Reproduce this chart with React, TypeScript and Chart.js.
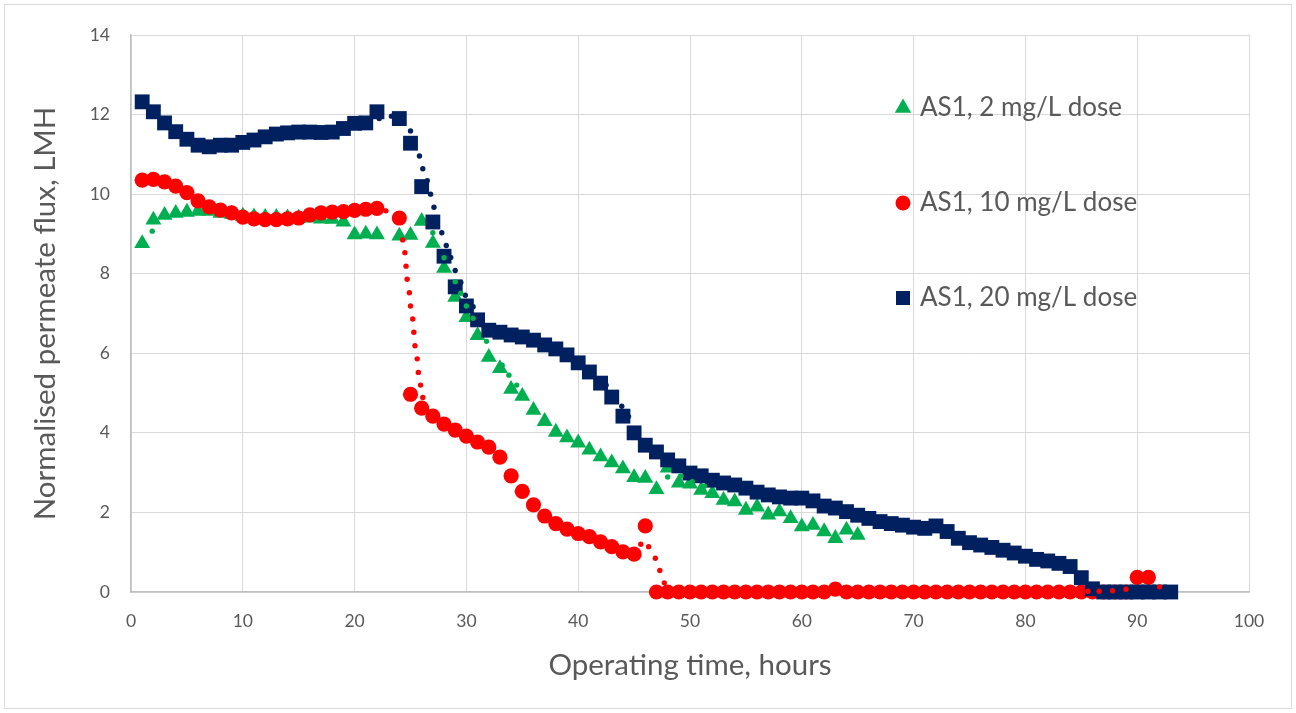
import React, { useEffect, useRef } from 'react';
import { Chart, registerables } from 'chart.js';

Chart.register(...registerables);

// ---------- data ----------
const xTitle = 'Operating time, hours';
const yTitle = 'Normalised permeate flux, LMH';

const seriesLabels = ['AS1, 2 mg/L dose', 'AS1, 10 mg/L dose', 'AS1, 20 mg/L dose'];

// AS1, 2 mg/L dose (hourly)
const greenHours = [
  1, 2, 3, 4, 5, 6, 7, 8, 9, 10, 11, 12, 13, 14, 15, 16, 17, 18, 19, 20, 21, 22,
  24, 25, 26, 27, 28, 29, 30, 31, 32, 33, 34, 35, 36, 37, 38, 39, 40, 41, 42, 43, 44, 45,
  46, 47, 48, 49, 50, 51, 52, 53, 54, 55, 56, 57, 58, 59, 60, 61, 62, 63, 64, 65,
];
const greenFlux = [
  8.76, 9.35, 9.47, 9.52, 9.55, 9.57, 9.57, 9.52, 9.5, 9.45, 9.43, 9.42, 9.42, 9.41, 9.4, 9.4, 9.38, 9.37, 9.3, 8.98, 9.0, 8.98,
  8.95, 8.97, 9.32, 8.77, 8.14, 7.41, 6.9, 6.45, 5.9, 5.62, 5.1, 4.92, 4.57, 4.29, 4.02, 3.88, 3.75, 3.57, 3.4, 3.25, 3.1, 2.88,
  2.86, 2.58, 3.12, 2.74, 2.72, 2.56, 2.48, 2.31, 2.27, 2.06, 2.14, 1.94, 2.02, 1.85, 1.64, 1.68, 1.52, 1.35, 1.56, 1.43,
];

// AS1, 10 mg/L dose (hourly)
const redHours = [
  1, 2, 3, 4, 5, 6, 7, 8, 9, 10, 11, 12, 13, 14, 15, 16, 17, 18, 19, 20, 21, 22,
  24, 25, 26, 27, 28, 29, 30, 31, 32, 33, 34, 35, 36, 37, 38, 39, 40, 41, 42, 43, 44, 45, 46,
  47, 48, 49, 50, 51, 52, 53, 54, 55, 56, 57, 58, 59, 60, 61, 62, 63, 64, 65, 66, 67, 68,
  69, 70, 71, 72, 73, 74, 75, 76, 77, 78, 79, 80, 81, 82, 83, 84, 85, 86, 87, 88, 89, 90, 91,
];
const redFlux = [
  10.35, 10.37, 10.31, 10.2, 10.04, 9.83, 9.68, 9.6, 9.53, 9.42, 9.38, 9.36, 9.36, 9.38, 9.4, 9.48, 9.53, 9.55, 9.56, 9.59, 9.62, 9.64,
  9.4, 4.97, 4.62, 4.42, 4.22, 4.07, 3.92, 3.77, 3.64, 3.39, 2.92, 2.53, 2.19, 1.91, 1.72, 1.58, 1.47, 1.39, 1.26, 1.14, 1.01, 0.95, 1.66,
  0, 0, 0, 0, 0, 0, 0, 0, 0, 0, 0, 0, 0, 0, 0, 0, 0.07, 0, 0, 0, 0, 0,
  0, 0, 0, 0, 0, 0, 0, 0, 0, 0, 0, 0, 0, 0, 0, 0, 0, 0, 0, 0, 0, 0.37, 0.37,
];

// AS1, 20 mg/L dose (hourly)
const blueHours = [
  1, 2, 3, 4, 5, 6, 7, 8, 9, 10, 11, 12, 13, 14, 15, 16, 17, 18, 19, 20, 21, 22,
  24, 25, 26, 27, 28, 29, 30, 31, 32, 33, 34, 35, 36, 37, 38, 39, 40, 41, 42, 43, 44, 45, 46,
  47, 48, 49, 50, 51, 52, 53, 54, 55, 56, 57, 58, 59, 60, 61, 62, 63, 64, 65, 66, 67, 68,
  69, 70, 71, 72, 73, 74, 75, 76, 77, 78, 79, 80, 81, 82, 83, 84, 85, 86, 87, 88, 89, 90, 91, 92, 93,
];
const blueFlux = [
  12.32, 12.07, 11.79, 11.57, 11.38, 11.23, 11.19, 11.23, 11.23, 11.3, 11.36, 11.44, 11.51, 11.54, 11.56, 11.56, 11.55, 11.56, 11.65, 11.78, 11.79, 12.07,
  11.9, 11.28, 10.19, 9.3, 8.44, 7.67, 7.19, 6.84, 6.58, 6.53, 6.46, 6.41, 6.33, 6.21, 6.11, 5.96, 5.76, 5.53, 5.25, 4.9, 4.42, 4.0, 3.69,
  3.52, 3.32, 3.17, 2.99, 2.92, 2.81, 2.74, 2.69, 2.61, 2.51, 2.44, 2.39, 2.36, 2.36, 2.29, 2.16, 2.11, 2.02, 1.93, 1.85, 1.77, 1.72,
  1.68, 1.63, 1.6, 1.66, 1.52, 1.35, 1.24, 1.18, 1.12, 1.05, 0.98, 0.9, 0.82, 0.78, 0.72, 0.64, 0.36, 0.08, 0, 0, 0, 0, 0, 0, 0,
];

// finer-resolution readings (small dots)
const greenFineHours = [1.9, 27.0, 28.0, 29.0, 29.5, 30.0, 30.6, 31.8, 33.2, 33.8, 34.5, 48.0, 49.2, 50.2, 51.3];
const greenFineFlux = [9.07, 9.03, 8.4, 7.8, 7.51, 7.19, 6.88, 6.3, 5.7, 5.45, 5.2, 2.89, 2.92, 2.77, 2.66];

const redFineHours = [
  22.8, 24.3, 24.5, 24.6, 24.7, 24.9, 25.0, 25.2, 25.3, 25.4, 25.6, 25.7, 25.9, 26.1,
  45.6, 46.3, 46.9, 47.3, 47.7, 85.6, 86.6, 87.8, 89.0, 92.0,
];
const redFineFlux = [
  9.58, 8.85, 8.53, 8.19, 7.86, 7.52, 7.19, 6.86, 6.53, 6.19, 5.86, 5.52, 5.2, 4.89,
  1.2, 1.14, 0.85, 0.54, 0.23, 0.02, 0.02, 0.03, 0.07, 0.13,
];

const blueFineHours = [
  22.2, 23.3, 25.0, 25.8, 26.1, 26.5, 26.8, 27.1, 27.8, 28.2, 28.6, 29.0, 29.5, 29.9, 30.6,
  42.5, 43.9, 44.5,
];
const blueFineFlux = [
  11.9, 11.96, 11.59, 10.96, 10.64, 10.34, 10.0, 9.67, 9.03, 8.71, 8.41, 8.08, 7.78, 7.46, 7.17,
  5.2, 4.67, 4.41,
];

const xTicks = [0, 10, 20, 30, 40, 50, 60, 70, 80, 90, 100];
const yTicks = [0, 2, 4, 6, 8, 10, 12, 14];

// ---------- styles ----------
const GREEN = '#00B050';
const RED = '#FF0000';
const NAVY = '#002060';
const TEXT = '#595959';
const FONT = "Lato, 'Open Sans', sans-serif";

const pts = (xs: number[], ys: number[]) => xs.map((x, i) => ({ x, y: ys[i] }));

const frameAndLegend = {
  id: 'frameAndLegend',
  beforeDraw(chart: any) {
    const { ctx } = chart;
    ctx.save();
    ctx.fillStyle = '#ffffff';
    ctx.fillRect(0, 0, chart.width, chart.height);
    ctx.strokeStyle = '#d9d9d9';
    ctx.lineWidth = 1;
    ctx.strokeRect(4.5, 4.5, chart.width - 9, chart.height - 9);
    ctx.restore();
  },
  afterDatasetsDraw(chart: any) {
    const { ctx } = chart;
    const items = chart.data.datasets.filter((d: any) => d.inLegend);
    const mx = 903;
    const tx = 920;
    const ys = [108, 203, 298];
    ctx.save();
    items.forEach((d: any, i: number) => {
      const y = ys[i];
      ctx.fillStyle = d.backgroundColor;
      ctx.beginPath();
      if (d.pointStyle === 'triangle') {
        const r = 9.5;
        ctx.moveTo(mx, y - r);
        ctx.lineTo(mx + r * Math.sin((2 * Math.PI) / 3), y - r * Math.cos((2 * Math.PI) / 3));
        ctx.lineTo(mx + r * Math.sin((4 * Math.PI) / 3), y - r * Math.cos((4 * Math.PI) / 3));
        ctx.closePath();
      } else if (d.pointStyle === 'circle') {
        ctx.arc(mx, y, 7.5, 0, Math.PI * 2);
      } else {
        ctx.rect(mx - 7, y - 7, 14, 14);
      }
      ctx.fill();
      ctx.fillStyle = TEXT;
      ctx.font = `26px ${FONT}`;
      ctx.textBaseline = 'middle';
      ctx.textAlign = 'left';
      ctx.fillText(d.label, tx, y);
    });
    ctx.restore();
  },
};

export default function App() {
  const ref = useRef<HTMLCanvasElement | null>(null);

  useEffect(() => {
    if (!ref.current) return;
    const big = (label: string, data: any[], color: string, style: string, r: number, order: number) => ({
      label,
      data,
      inLegend: true,
      backgroundColor: color,
      borderColor: color,
      pointStyle: style,
      pointRadius: r,
      pointBorderWidth: 0,
      showLine: false,
      clip: false,
      order,
    });
    const fine = (data: any[], color: string) => ({
      label: '',
      data,
      inLegend: false,
      backgroundColor: color,
      borderColor: color,
      pointStyle: 'circle',
      pointRadius: 2.7,
      pointBorderWidth: 0,
      showLine: false,
      clip: false,
      order: 0,
    });

    const chart = new Chart(ref.current, {
      type: 'scatter',
      data: {
        datasets: [
          big(seriesLabels[0], pts(greenHours, greenFlux), GREEN, 'triangle', 9.2, 3),
          big(seriesLabels[1], pts(redHours, redFlux), RED, 'circle', 7.6, 2),
          big(seriesLabels[2], pts(blueHours, blueFlux), NAVY, 'rect', 10.5, 1),
          fine(pts(greenFineHours, greenFineFlux), GREEN),
          fine(pts(redFineHours, redFineFlux), RED),
          fine(pts(blueFineHours, blueFineFlux), NAVY),
        ] as any,
      },
      options: {
        responsive: false,
        animation: false,
        devicePixelRatio: 1,
        layout: { padding: { top: 35, right: 47, left: 0, bottom: 0 } },
        plugins: { legend: { display: false }, tooltip: { enabled: false } },
        scales: {
          x: {
            type: 'linear',
            min: xTicks[0],
            max: xTicks[xTicks.length - 1],
            afterBuildTicks: (s: any) => {
              s.ticks = xTicks.map((v) => ({ value: v }));
            },
            afterFit: (s: any) => {
              s.height = 121;
            },
            ticks: { color: TEXT, font: { family: FONT, size: 17.5 }, padding: 19 },
            grid: { color: '#d9d9d9', drawTicks: false },
            border: { color: '#bfbfbf', width: 1.5 },
            title: {
              display: true,
              text: xTitle,
              color: TEXT,
              font: { family: FONT, size: 29.5 },
              padding: { top: 0, bottom: 30 },
            },
          },
          y: {
            type: 'linear',
            min: yTicks[0],
            max: yTicks[yTicks.length - 1],
            afterBuildTicks: (s: any) => {
              s.ticks = yTicks.map((v) => ({ value: v }));
            },
            afterFit: (s: any) => {
              s.width = 131;
            },
            ticks: { color: TEXT, font: { family: FONT, size: 17.5 }, padding: 21 },
            grid: { color: '#d9d9d9', drawTicks: false },
            border: { color: '#bfbfbf', width: 1.5 },
            title: {
              display: true,
              text: yTitle,
              color: TEXT,
              font: { family: FONT, size: 29.5 },
              padding: { top: 28, bottom: 0 },
            },
          },
        },
      } as any,
      plugins: [frameAndLegend],
    });
    return () => chart.destroy();
  }, []);

  return (
    <div style={{ position: 'absolute', left: 0, top: 0, width: 1296, height: 713 }}>
      <canvas ref={ref} width={1296} height={713} style={{ width: 1296, height: 713, display: 'block' }} />
    </div>
  );
}
